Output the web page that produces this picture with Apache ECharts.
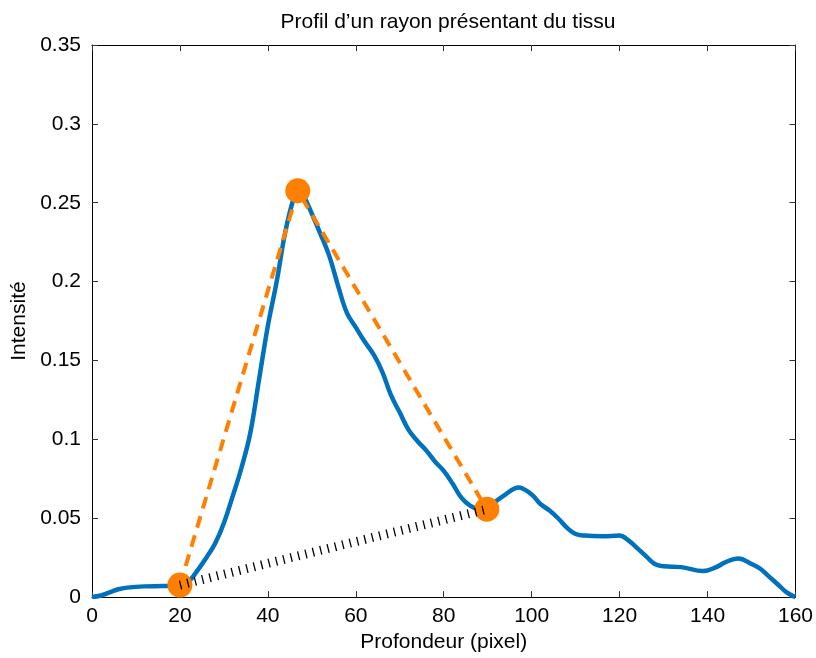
<!DOCTYPE html>
<html>
<head>
<meta charset="utf-8">
<script src="https://cdn.jsdelivr.net/npm/echarts@6/dist/echarts.min.js"></script>
<style>
html,body{margin:0;padding:0;background:#fff;}
#c{width:816px;height:658px;}
</style>
</head>
<body>
<div id="c"></div>
<script>
// Profile data
var depth = [0,2,4,6,8,12,16,20,22,24,26,28,30,32,34,36,38,40,42,44,46,47,48,50,52,54,56,58,60,62,64,66,68,70,72,74,76,78,80,82,84,86,88,90,92,94,97,100,102,104,106,108,110,112,116,120,122,124,126,128,130,134,139,142,144,147,150,152,154,156,158,160];
var intensity = [0,0.001,0.003,0.005,0.006,0.0068,0.007,0.0075,0.010,0.017,0.025,0.034,0.047,0.064,0.082,0.104,0.138,0.172,0.200,0.232,0.254,0.2575,0.255,0.243,0.230,0.216,0.197,0.180,0.171,0.162,0.154,0.143,0.128,0.117,0.106,0.099,0.093,0.086,0.080,0.072,0.063,0.058,0.056,0.057,0.061,0.065,0.0695,0.065,0.059,0.055,0.050,0.044,0.040,0.039,0.0385,0.039,0.036,0.031,0.026,0.021,0.0195,0.019,0.0165,0.019,0.022,0.0245,0.021,0.018,0.013,0.008,0.003,0];
// Key points (start, peak, end)
var keyDepth = [20, 46.8, 89.8];
var keyIntensity = [0.0076, 0.2576, 0.0557];

var FONT = 'Liberation Sans, Arial, sans-serif';
var FS = 21;
var curve = depth.map(function(d,i){return [d,intensity[i]];});
var tri = keyDepth.map(function(d,i){return [d,keyIntensity[i]];});
var base = [tri[0], tri[2]];

var chart = echarts.init(document.getElementById('c'));
function axisCommon(){return {
  axisLine:{show:true,onZero:false,lineStyle:{color:'#000',width:1}},
  axisTick:{show:true,inside:true,length:6,lineStyle:{color:'#333',width:1}},
  splitLine:{show:false}
};}
var xb = axisCommon(), xt = axisCommon(), yl = axisCommon(), yr = axisCommon();
chart.setOption({
  animation:false,
  backgroundColor:'#fff',
  title:{text:'Profil d\u2019un rayon présentant du tissu',left:443,textAlign:'center',top:7,
    textStyle:{fontFamily:FONT,fontSize:21,fontWeight:'normal',color:'#000'}},
  grid:{left:92,right:20,top:45,bottom:60,containLabel:false},
  xAxis:[
    Object.assign(xb,{type:'value',min:0,max:160,interval:20,position:'bottom',
      name:'Profondeur (pixel)',nameLocation:'middle',nameGap:31,
      nameTextStyle:{fontFamily:FONT,fontSize:FS,color:'#000'},
      axisLabel:{fontFamily:FONT,fontSize:FS,color:'#000',margin:9}}),
    Object.assign(xt,{type:'value',min:0,max:160,interval:20,position:'top',axisLabel:{show:false}})
  ],
  yAxis:[
    Object.assign(yl,{type:'value',min:0,max:0.35,interval:0.05,position:'left',
      name:'Intensité',nameLocation:'middle',nameGap:58,
      nameTextStyle:{fontFamily:FONT,fontSize:FS,color:'#000'},
      axisLabel:{fontFamily:FONT,fontSize:FS,color:'#000',margin:11}}),
    Object.assign(yr,{type:'value',min:0,max:0.35,interval:0.05,position:'right',axisLabel:{show:false}})
  ],
  series:[
    {type:'line',data:curve,smooth:0.4,showSymbol:false,z:2,
      lineStyle:{color:'#0072BD',width:4.5}},
    {type:'line',data:tri,showSymbol:false,z:3,
      lineStyle:{color:'#FF7F00',width:4,type:[12,8]}},
    {type:'scatter',data:tri,symbol:'circle',symbolSize:25,z:4,
      itemStyle:{color:'#FF7F00',opacity:1}},
    {type:'line',data:base,showSymbol:false,z:5,
      lineStyle:{color:'#000',width:9,type:[1.3,6.3]}}
  ]
});
</script>
</body>
</html>
